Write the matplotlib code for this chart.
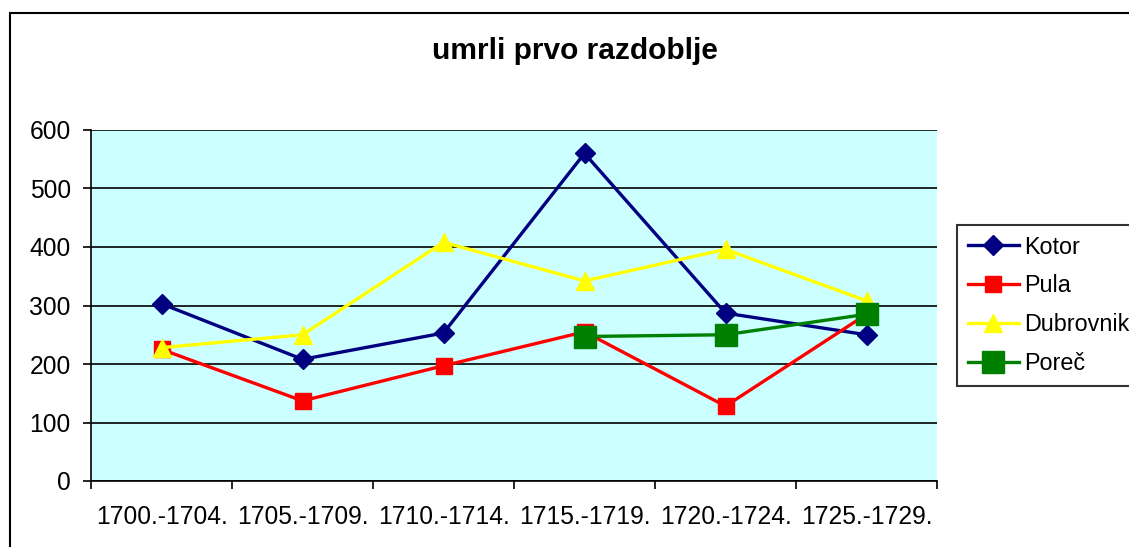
import matplotlib
matplotlib.use("Agg")
import matplotlib.pyplot as plt
from matplotlib.patches import Rectangle

categories = ["1700.-1704.", "1705.-1709.", "1710.-1714.", "1715.-1719.", "1720.-1724.", "1725.-1729."]
kotor = [303, 208, 253, 560, 287, 250]
pula = [225, 137, 197, 255, 128, 285]
dubrovnik = [228, 250, 408, 342, 396, 308]
porec = [None, None, None, 247, 250, 285]

plt.rcParams['font.family'] = ['Liberation Sans', 'DejaVu Sans']

fig = plt.figure(figsize=(11.29, 5.47), dpi=100)
fig.patches.append(Rectangle((10/1129, -0.1), 2, 1 - 13/547 + 0.1, transform=fig.transFigure,
                             fill=False, edgecolor='black', linewidth=1.5))
ax = fig.add_axes([91/1129, 66/547, 846/1129, 351/547])
ax.set_facecolor('#CCFFFF')

x = list(range(len(categories)))
ax.plot(x, kotor, color='#000080', lw=2.4, marker='D', ms=10, label='Kotor', zorder=3)
ax.plot(x, pula, color='#FF0000', lw=2.4, marker='s', ms=11, label='Pula', zorder=3)
ax.plot(x, dubrovnik, color='#FFFF00', lw=2.4, marker='^', ms=13, label='Dubrovnik', zorder=3)
px = [i for i, v in enumerate(porec) if v is not None]
pv = [v for v in porec if v is not None]
ax.plot(px, pv, color='#008000', lw=2.4, marker='s', ms=16, label='Poreč', zorder=4)

ax.set_xlim(-0.5, len(categories) - 0.5)
ax.set_ylim(0, 600)
ax.set_yticks(range(0, 601, 100))
ax.set_xticks(x)
ax.set_xticklabels(categories)
ax.set_xticks([i - 0.5 for i in range(len(categories) + 1)], minor=True)
ax.tick_params(axis='x', which='major', length=0, pad=17, labelsize=17.7)
ax.tick_params(axis='x', which='minor', length=6, direction='out', width=1.2)
ax.tick_params(axis='y', length=6, direction='out', width=1.2, labelsize=17.7, pad=8.5)
ax.yaxis.grid(True, color='black', lw=1.2)
ax.set_axisbelow(True)
for s in ['top', 'right']:
    ax.spines[s].set_visible(False)
ax.spines['left'].set_linewidth(1.2)
ax.spines['bottom'].set_linewidth(1.2)

fig.text(575/1129, 1 - 51/547, 'umrli prvo razdoblje', ha='center', va='center',
         fontsize=21.5, fontweight='bold')

leg = fig.legend(loc='upper left', bbox_to_anchor=(957/1129, 1 - 225/547), fontsize=16.8,
                 frameon=True, fancybox=False, edgecolor='black', handlelength=2.2,
                 labelspacing=0.68, borderpad=0.45, handletextpad=0.22, borderaxespad=0)
leg.get_frame().set_linewidth(1.5)

fig.savefig('out.png', dpi=100)
